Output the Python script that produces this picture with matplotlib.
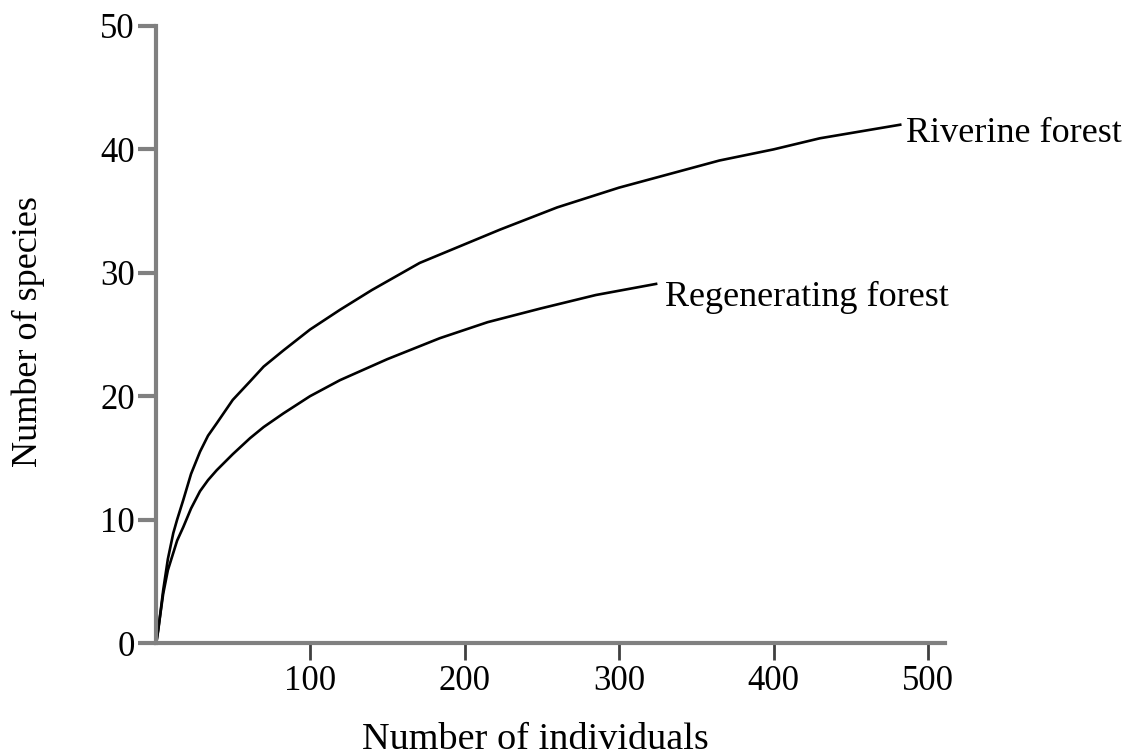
"""
Curvas de rarefação: número de espécies vs número de indivíduos
para floresta ripária e floresta em regeneração.
"""

import matplotlib
matplotlib.use("Agg")
import matplotlib.pyplot as plt

# valores
riverine_x = [0.5, 1.8, 5, 8, 11.5, 14, 18, 23, 28.8, 34, 39.6, 50, 61.2, 70, 82.7, 100,
              119.4, 140, 171, 223, 260, 300, 365, 400, 430, 482]
riverine_y = [0, 1.05, 4.3, 6.8, 8.9, 10.0, 11.6, 13.7, 15.5, 16.8, 17.8, 19.7, 21.2, 22.4,
              23.7, 25.4, 27.0, 28.6, 30.8, 33.5, 35.3, 36.9, 39.1, 40.0, 40.9, 42.0]

regen_x = [0.5, 5, 8, 11.5, 14, 18, 23, 28.8, 34, 39.6, 50, 61.2, 70, 82.7, 100, 119.4,
           150, 184, 215, 249, 285, 324]
regen_y = [0, 4.0, 5.9, 7.3, 8.3, 9.4, 10.9, 12.3, 13.2, 14.0, 15.3, 16.6, 17.5, 18.6,
           20.0, 21.3, 23.0, 24.7, 26.0, 27.1, 28.2, 29.1]

x_ticks = [100, 200, 300, 400, 500]
y_ticks = [0, 10, 20, 30, 40, 50]

labels = {"Riverine forest": (486, 41.3), "Regenerating forest": (330, 28.0)}

plt.rcParams["font.family"] = ["Liberation Serif", "DejaVu Serif"]

W, H = 1129, 755
fig = plt.figure(figsize=(W / 100, H / 100), dpi=100)
left, right, bottom, top = 155.5, 945, 643, 26
ax = fig.add_axes([left / W, 1 - bottom / H, (right - left) / W, (bottom - top) / H])

ax.plot(riverine_x, riverine_y, color="black", linewidth=1.9)
ax.plot(regen_x, regen_y, color="black", linewidth=1.9)

for txt, (tx, ty) in labels.items():
    ax.text(tx, ty, txt, fontsize=26, ha="left", va="center")

ax.set_xlim(0, 511)
ax.set_ylim(0, 50)
ax.set_xticks(x_ticks)
ax.set_yticks(y_ticks)

for side in ["top", "right"]:
    ax.spines[side].set_visible(False)
for side in ["left", "bottom"]:
    ax.spines[side].set_color("#808080")
    ax.spines[side].set_linewidth(3.0)

ax.tick_params(axis="x", direction="out", length=12, width=2.0, color="#404040",
               labelsize=25, pad=3.5)
ax.tick_params(axis="y", direction="out", length=13, width=3.0, color="#808080",
               labelsize=25, pad=2)

ax.set_xlabel("Number of individuals", fontsize=27.5, va="baseline")
ax.xaxis.set_label_coords((535 - left) / (right - left), (bottom - 749) / (bottom - top))
ax.set_ylabel("Number of species", fontsize=26, va="center")
ax.yaxis.set_label_coords((28 - left) / (right - left), (bottom - 332) / (bottom - top))

fig.savefig("out.png", dpi=100)
